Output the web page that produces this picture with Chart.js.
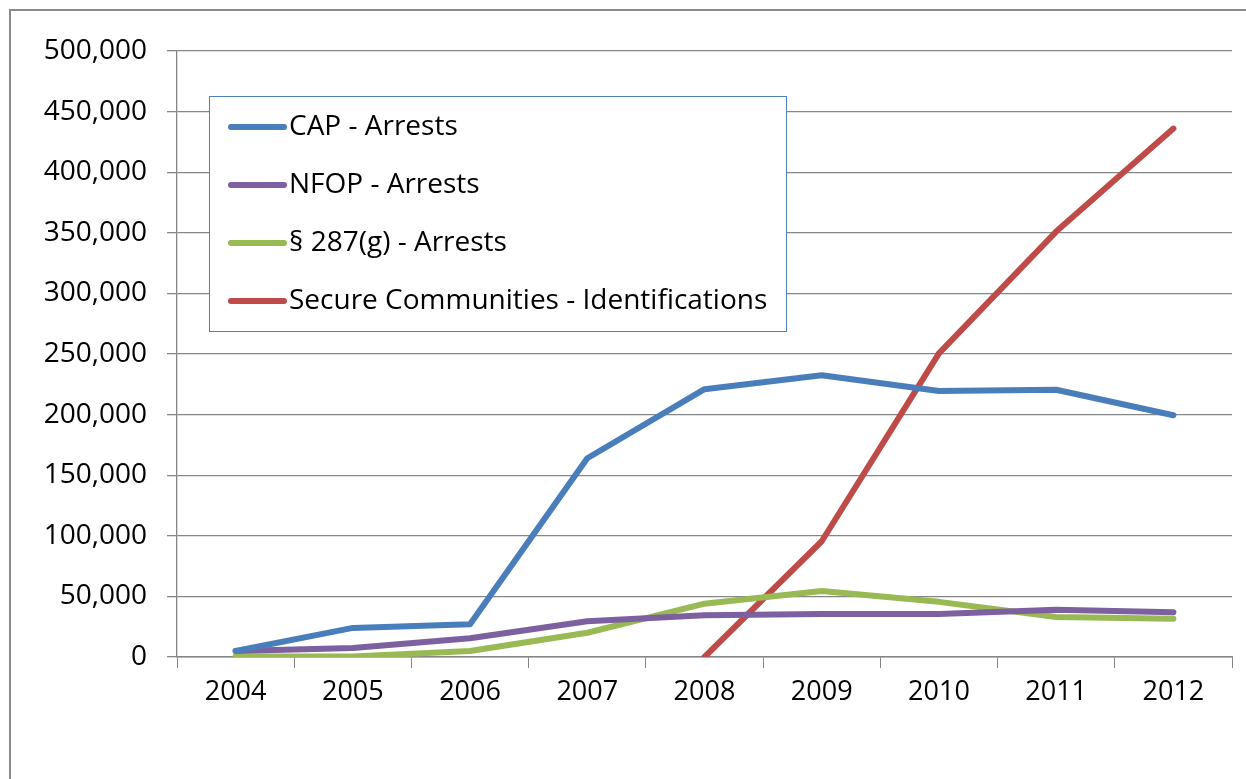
<!DOCTYPE html>
<html>
<head>
<meta charset="utf-8">
<script src="https://cdn.jsdelivr.net/npm/chart.js@4"></script>
<style>
    body { margin: 0; background: #fff; }
    #frame {
        position: absolute; left: 9px; top: 9px; width: 1237px; height: 770px;
        border-left: 2px solid #8a8a8a; border-top: 2px solid #8a8a8a;
    }
    #wrap { position: absolute; left: 0; top: 0; width: 1246px; height: 779px; }
</style>
</head>
<body>
<div id="frame"></div>
<div id="wrap"><canvas id="chart" width="1246" height="779"></canvas></div>
<script>
const years = ['2004', '2005', '2006', '2007', '2008', '2009', '2010', '2011', '2012'];
const capArrests = [5000, 24000, 27000, 164000, 221000, 232500, 219500, 220500, 199500];
const nfopArrests = [5000, 7500, 15500, 29500, 34500, 35500, 35500, 39000, 37000];
const arrests287g = [500, 500, 5000, 20000, 44000, 54500, 45500, 33000, 31500];
const secureIds = [null, null, null, null, 0, 95500, 250500, 351000, 436000];
const yTicks = [0, 50000, 100000, 150000, 200000, 250000, 300000, 350000, 400000, 450000, 500000];

const FONT = "'Open Sans', 'DejaVu Sans', sans-serif";

// legend drawn as a box inside the plot, like the original
const boxLegend = {
    id: 'boxLegend',
    afterDatasetsDraw(chart) {
        const ctx = chart.ctx;
        const x0 = 209, y0 = 96, w = 577, h = 235;
        ctx.save();
        ctx.fillStyle = '#ffffff';
        ctx.fillRect(x0, y0, w, h);
        ctx.strokeStyle = '#4f81bd';
        ctx.lineWidth = 1;
        ctx.strokeRect(x0 + 0.5, y0 + 0.5, w, h);
        ctx.font = '28px ' + FONT;
        ctx.textBaseline = 'middle';
        chart.data.datasets.forEach((ds, i) => {
            const y = 127 + i * 58;
            ctx.strokeStyle = ds.borderColor;
            ctx.lineWidth = 6;
            ctx.lineCap = 'round';
            ctx.beginPath();
            ctx.moveTo(231, y);
            ctx.lineTo(284, y);
            ctx.stroke();
            ctx.fillStyle = '#000';
            ctx.fillText(ds.label, 289, y);
        });
        ctx.restore();
    }
};

const lineStyle = {
    borderWidth: 6,
    pointRadius: 0,
    tension: 0,
    borderCapStyle: 'round',
    borderJoinStyle: 'round',
    fill: false,
};

new Chart(document.getElementById('chart'), {
    type: 'line',
    data: {
        labels: years,
        datasets: [
            { label: 'CAP - Arrests', data: capArrests, borderColor: '#4a7ebb', ...lineStyle },
            { label: 'NFOP - Arrests', data: nfopArrests, borderColor: '#7d60a0', ...lineStyle },
            { label: '§ 287(g) - Arrests', data: arrests287g, borderColor: '#98b954', ...lineStyle },
            { label: 'Secure Communities - Identifications', data: secureIds, borderColor: '#be4b48', ...lineStyle },
        ],
    },
    options: {
        responsive: false,
        animation: false,
        layout: { padding: { left: 0, top: 51, right: 14, bottom: 0 } },
        plugins: {
            legend: { display: false },
            tooltip: { enabled: false },
        },
        scales: {
            x: {
                offset: true,
                grid: {
                    offset: true,
                    drawOnChartArea: false,
                    drawTicks: true,
                    tickLength: 11,
                    color: '#868686',
                },
                border: { color: '#868686', width: 1.5 },
                ticks: {
                    font: { family: FONT, size: 27 },
                    color: '#000',
                    padding: 8,
                    maxRotation: 0,
                },
                afterFit(scale) { scale.height = 122; },
            },
            y: {
                min: 0,
                max: 500000,
                afterBuildTicks(scale) { scale.ticks = yTicks.map(v => ({ value: v })); },
                grid: {
                    color: '#868686',
                    lineWidth: 1.3,
                    tickLength: 10,
                },
                border: { color: '#868686', width: 1.3 },
                ticks: {
                    font: { family: FONT, size: 28 },
                    color: '#000',
                    padding: 20,
                    callback: v => v.toLocaleString('en-US'),
                },
                afterFit(scale) { scale.width = 177; },
            },
        },
    },
    plugins: [boxLegend],
});
</script>
</body>
</html>
